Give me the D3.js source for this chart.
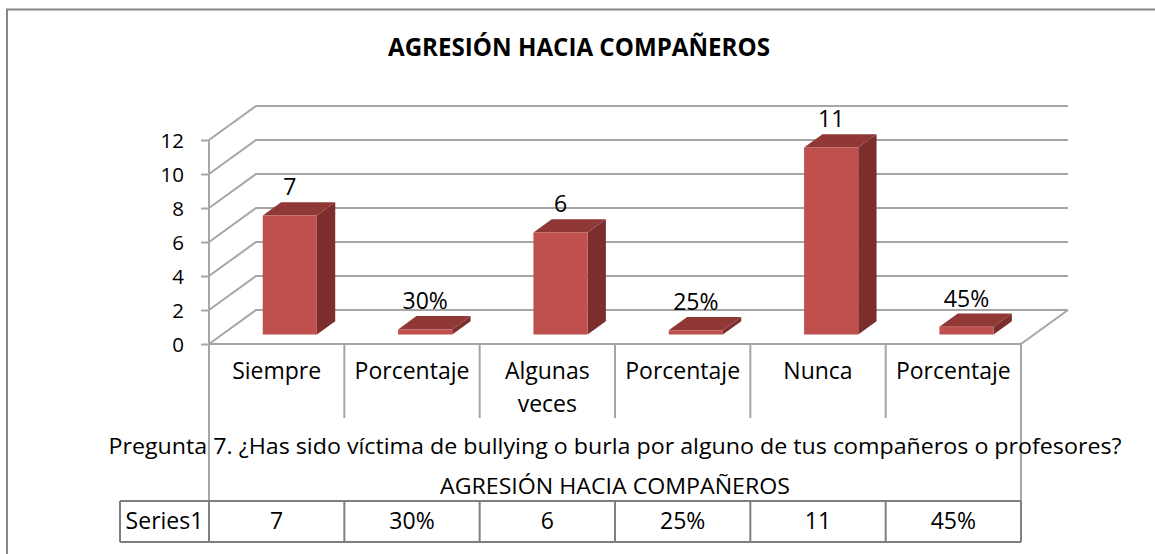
<!DOCTYPE html>
<html>
<head>
<meta charset="utf-8">
<script src="https://cdn.jsdelivr.net/npm/d3@7"></script>
<style>
  body { margin: 0; background: #fff; }
  text { font-family: "Open Sans", sans-serif; fill: #000; }
</style>
</head>
<body>
<svg id="chart"></svg>
<script>
// datos del grafico
const categories = ["Siempre", "Porcentaje", "Algunas veces", "Porcentaje", "Nunca", "Porcentaje"];
const values = [7, 0.30, 6, 0.25, 11, 0.45];
const valueLabels = ["7", "30%", "6", "25%", "11", "45%"];
const yTicks = [0, 2, 4, 6, 8, 10, 12];
const seriesName = "Series1";
const title = "AGRESIÓN HACIA COMPAÑEROS";
const axisTitle = "Pregunta 7. ¿Has sido víctima de bullying o burla por alguno de tus compañeros o profesores?";

const width = 1155;
const height = 554;
const plot = { left: 209, right: 1021, bottom: 344, top: 140 };
const depth = { dx: 47, dy: -34 };
const z0 = 0.28, z1 = 0.67;

const svg = d3.select("#chart")
    .attr("width", width)
    .attr("height", height);

const x = d3.scaleBand()
    .domain(d3.range(categories.length))
    .range([plot.left, plot.right])
    .paddingInner(0.6)
    .paddingOuter(0.3);

const y = d3.scaleLinear()
    .domain([0, 12])
    .range([plot.bottom, plot.top]);

const step = x.step();
const P = (px, v, z) => [px + depth.dx * z, y(v) + depth.dy * z];

// borde exterior
svg.append("path")
    .attr("d", `M7,${height + 5}V9.5H${width + 5}`)
    .attr("fill", "none")
    .attr("stroke", "#868686")
    .attr("stroke-width", 2);

// titulo
svg.append("text")
    .attr("x", 579)
    .attr("y", 56)
    .attr("text-anchor", "middle")
    .style("font-size", "25px")
    .style("font-weight", "bold")
    .attr("textLength", 382)
    .attr("lengthAdjust", "spacingAndGlyphs")
    .text(title);

const gridColor = "#a6a6a6";

// lineas de la pared trasera y lateral
yTicks.forEach(t => {
    const a = P(plot.left, t, 0), b = P(plot.left, t, 1), c = P(plot.right, t, 1);
    svg.append("path")
        .attr("d", `M${a}L${b}L${c}`)
        .attr("fill", "none")
        .attr("stroke", gridColor)
        .attr("stroke-width", 2);
});

// suelo: borde derecho
svg.append("path")
    .attr("d", `M${P(plot.right, 0, 0)}L${P(plot.right, 0, 1)}`)
    .attr("stroke", gridColor)
    .attr("stroke-width", 2);

// eje Y
const yAxis = svg.append("g")
    .attr("transform", `translate(${plot.left},0)`)
    .call(d3.axisLeft(y).tickValues(yTicks).tickSize(8).tickPadding(17));
yAxis.select(".domain").remove();
yAxis.selectAll(".tick line").attr("stroke", gridColor).attr("stroke-width", 2);
yAxis.selectAll(".tick text")
    .attr("dy", "0.38em")
    .style("font-size", "20.5px")
    .style("font-family", "'Open Sans', sans-serif")
    .attr("fill", "#000");

// linea frontal del eje y separadores
svg.append("line")
    .attr("x1", plot.left).attr("x2", plot.left)
    .attr("y1", plot.top).attr("y2", 542)
    .attr("stroke", gridColor).attr("stroke-width", 2);
svg.append("line")
    .attr("x1", plot.right).attr("x2", plot.right)
    .attr("y1", plot.bottom).attr("y2", 542)
    .attr("stroke", gridColor).attr("stroke-width", 2);
svg.append("line")
    .attr("x1", plot.left).attr("x2", plot.right)
    .attr("y1", plot.bottom).attr("y2", plot.bottom)
    .attr("stroke", gridColor).attr("stroke-width", 2);
d3.range(1, categories.length).forEach(i => {
    const sx = plot.left + i * step;
    svg.append("line")
        .attr("x1", sx).attr("x2", sx)
        .attr("y1", plot.bottom).attr("y2", 418)
        .attr("stroke", gridColor).attr("stroke-width", 2);
});

// barras 3D
const bars = svg.selectAll(".bar")
    .data(values)
    .enter().append("g")
    .attr("class", "bar");

bars.append("path")
    .attr("d", (d, i) => {
        const x1 = x(i) + x.bandwidth();
        return `M${P(x1, 0, z0)}L${P(x1, d, z0)}L${P(x1, d, z1)}L${P(x1, 0, z1)}Z`;
    })
    .attr("fill", "#7b2e2c");

bars.append("path")
    .attr("d", (d, i) => {
        const x0 = x(i), x1 = x(i) + x.bandwidth();
        return `M${P(x0, d, z0)}L${P(x1, d, z0)}L${P(x1, d, z1)}L${P(x0, d, z1)}Z`;
    })
    .attr("fill", "#8f3836");

bars.append("path")
    .attr("d", (d, i) => {
        const x0 = x(i), x1 = x(i) + x.bandwidth();
        return `M${P(x0, 0, z0)}L${P(x0, d, z0)}L${P(x1, d, z0)}L${P(x1, 0, z0)}Z`;
    })
    .attr("fill", "#c0504d");

// etiquetas de valores
svg.selectAll(".label")
    .data(values)
    .enter().append("text")
    .attr("class", "label")
    .attr("x", (d, i) => P(x(i) + x.bandwidth() / 2, d, z0)[0])
    .attr("y", (d, i) => P(0, d, z1)[1] - 7)
    .attr("text-anchor", "middle")
    .style("font-size", "23px")
    .text((d, i) => valueLabels[i]);

// etiquetas de categorias
categories.forEach((c, i) => {
    const cx = plot.left + (i + 0.5) * step;
    const words = c === "Algunas veces" ? ["Algunas", "veces"] : [c];
    words.forEach((w, j) => {
        svg.append("text")
            .attr("x", cx)
            .attr("y", 379 + j * 33)
            .attr("text-anchor", "middle")
            .style("font-size", "23px")
            .text(w);
    });
});

// titulo del eje
svg.append("text")
    .attr("x", 615)
    .attr("y", 454)
    .attr("text-anchor", "middle")
    .style("font-size", "22.5px")
    .attr("textLength", 1013)
    .attr("lengthAdjust", "spacingAndGlyphs")
    .text(axisTitle);

// tabla de datos
svg.append("text")
    .attr("x", 615)
    .attr("y", 494)
    .attr("text-anchor", "middle")
    .style("font-size", "22.5px")
    .attr("textLength", 350)
    .attr("lengthAdjust", "spacingAndGlyphs")
    .text(title);

const tableColor = "#7f7f7f";
const rowTop = 501, rowBottom = 542, tableLeft = 120;
[rowTop, rowBottom].forEach(ty => {
    svg.append("line")
        .attr("x1", tableLeft).attr("x2", plot.right)
        .attr("y1", ty).attr("y2", ty)
        .attr("stroke", tableColor).attr("stroke-width", 2);
});
[tableLeft].concat(d3.range(categories.length + 1).map(i => plot.left + i * step)).forEach(tx => {
    svg.append("line")
        .attr("x1", tx).attr("x2", tx)
        .attr("y1", rowTop).attr("y2", rowBottom)
        .attr("stroke", tableColor).attr("stroke-width", 2);
});

svg.append("text")
    .attr("x", (tableLeft + plot.left) / 2)
    .attr("y", 529)
    .attr("text-anchor", "middle")
    .style("font-size", "23px")
    .text(seriesName);

svg.selectAll(".cell")
    .data(valueLabels)
    .enter().append("text")
    .attr("class", "cell")
    .attr("x", (d, i) => plot.left + (i + 0.5) * step)
    .attr("y", 529)
    .attr("text-anchor", "middle")
    .style("font-size", "23px")
    .text(d => d);
</script>
</body>
</html>
